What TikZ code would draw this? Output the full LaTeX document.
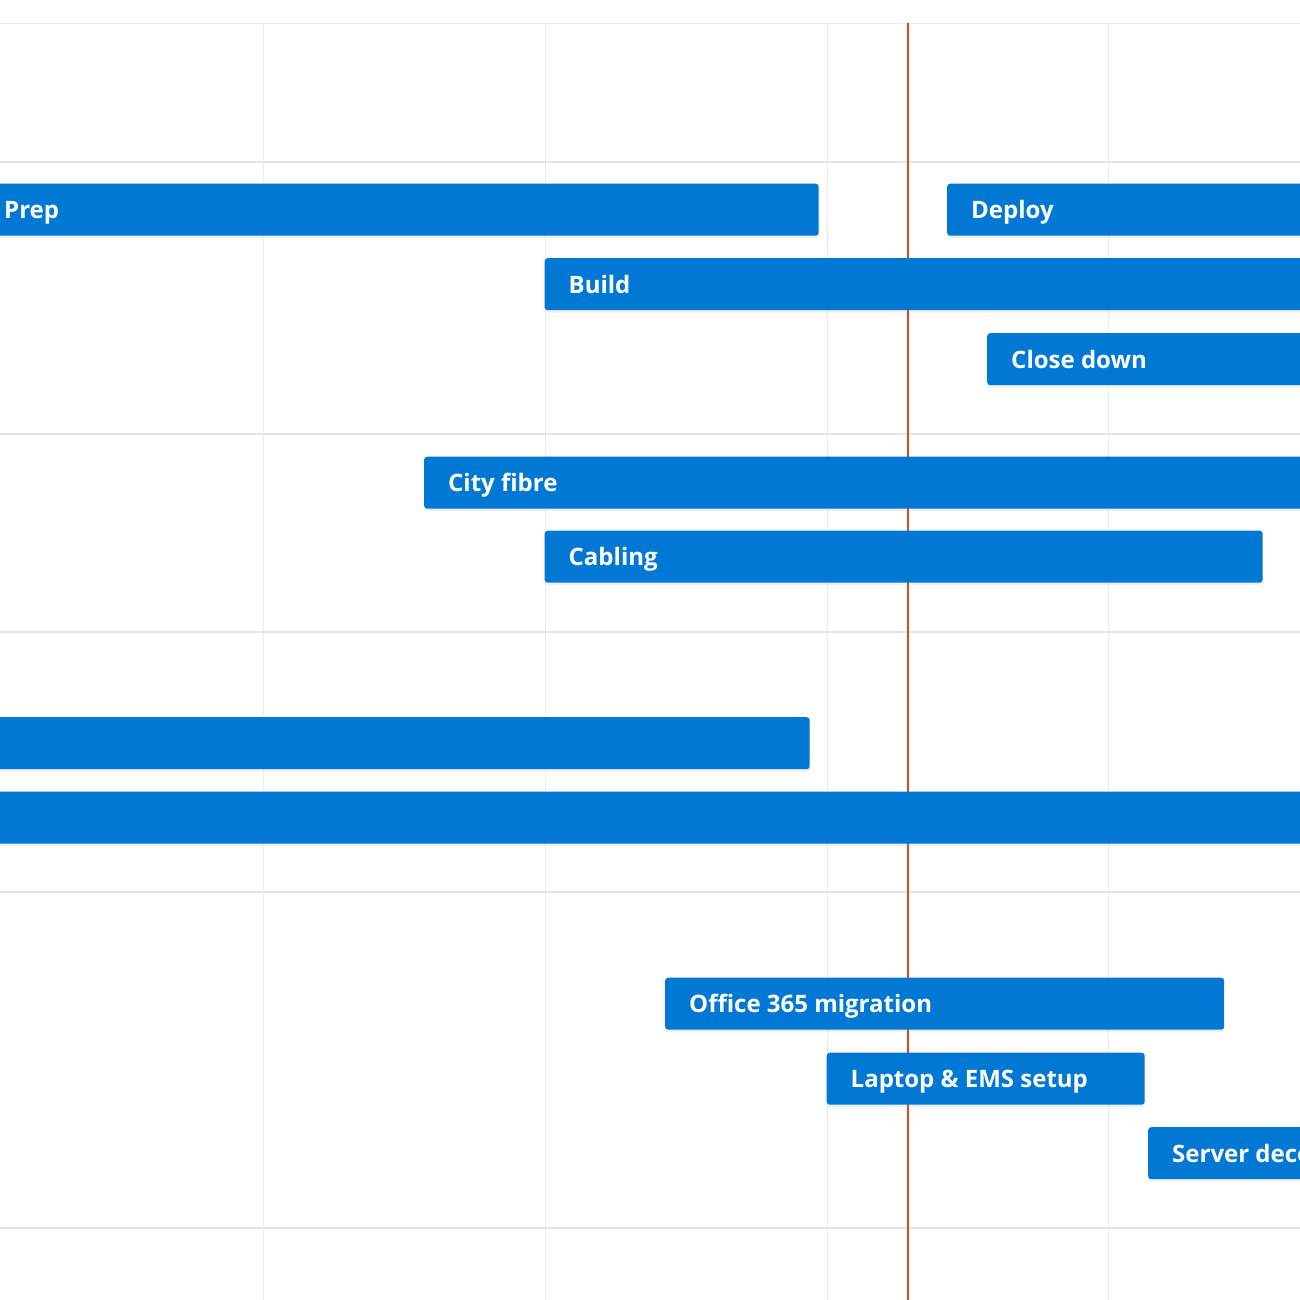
\documentclass[tikz,border=0pt]{standalone}
\usepackage{fontspec}
\setmainfont{Open Sans}
\usetikzlibrary{shadows}
\definecolor{barblue}{HTML}{0078D4}
\definecolor{gridc}{HTML}{ECECEC}
\definecolor{hgridc}{HTML}{E4E4E4}
\definecolor{todayred}{RGB}{230,70,10}
\tikzset{
  vgrid/.style={draw=gridc, line width=1.2pt},
  hgrid/.style={draw=hgridc, line width=2.2pt},
  todayline/.style={draw=todayred, line width=2pt},
  barbox/.style={fill=barblue, draw=none, rounded corners=3pt, minimum height=52pt, inner sep=0pt,
    drop shadow={opacity=0.12, shadow xshift=0pt, shadow yshift=-2.5pt}},
  bartext/.style={text=white, font=\fontsize{24}{30}\selectfont\bfseries, inner sep=0pt}
}
\newcommand\gbar[5]{%
  \node[barbox, minimum width={#3-(#2)}, anchor=north west] (#1) at (#2,#4) {};
  \node[bartext, anchor=base west] (#1-t) at ([xshift=24pt,yshift=-9pt]#1.west) {#5};
}
\begin{document}
\begin{tikzpicture}[x=1pt,y=-1pt]
\useasboundingbox (0,0) rectangle (1300,1300);
\clip (0,0) rectangle (1300,1300);
\fill[white] (0,0) rectangle (1300,1300);
% vertical grid
\foreach \gx/\gn in {263.5/v1,545.5/v2,827.5/v3,1108.5/v4}{
  \coordinate (\gn-top) at (\gx,23);
  \coordinate (\gn-bot) at (\gx,1300);
  \draw[vgrid] (\gn-top) -- (\gn-bot);
}
% horizontal grid
\coordinate (h0l) at (0,23.5); \coordinate (h0r) at (1300,23.5);
\draw[vgrid] (h0l) -- (h0r);
\foreach \gy/\gn in {162/h1,434/h2,632/h3,892/h4,1228/h5}{
  \coordinate (\gn-l) at (0,\gy);
  \coordinate (\gn-r) at (1300,\gy);
  \draw[hgrid] (\gn-l) -- (\gn-r);
}
% today line
\coordinate (today-top) at (907.5,23);
\coordinate (today-bot) at (907.5,1300);
\draw[todayline] (today-top) -- (today-bot);
% bars
\gbar{prep}{-20}{818.5}{183.5}{Prep}
\gbar{deploy}{947}{1340}{183.5}{Deploy}
\gbar{build}{544.5}{1340}{258}{Build}
\gbar{close}{987}{1340}{333}{Close down}
\gbar{fibre}{424}{1340}{456.5}{City fibre}
\gbar{cabling}{544.5}{1262.5}{530.5}{Cabling}
\gbar{b7}{-20}{809.5}{717}{}
\gbar{b8}{-20}{1340}{791.5}{}
\gbar{o365}{665}{1224}{977.5}{Office 365 migration}
\gbar{laptop}{826.5}{1144.5}{1052.5}{Laptop \& EMS setup}
\gbar{server}{1148}{1400}{1127}{Server decommission}
\end{tikzpicture}
\end{document}
